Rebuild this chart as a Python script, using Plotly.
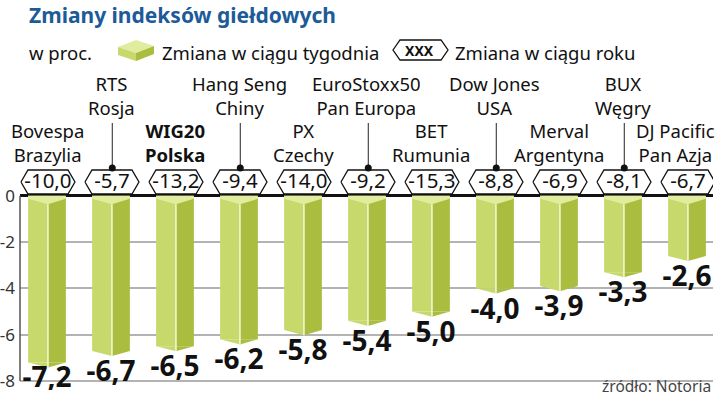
import plotly.graph_objects as go

# ---------------- data ----------------
index_names = ["Bovespa", "RTS", "WIG20", "Hang Seng", "PX", "EuroStoxx50",
               "BET", "Dow Jones", "Merval", "BUX", "DJ Pacific"]
countries = ["Brazylia", "Rosja", "Polska", "Chiny", "Czechy", "Pan Europa",
             "Rumunia", "USA", "Argentyna", "Węgry", "Pan Azja"]
weekly_change = [-7.2, -6.7, -6.5, -6.2, -5.8, -5.4, -5.0, -4.0, -3.9, -3.3, -2.6]
yearly_change = [-10.0, -5.7, -13.2, -9.4, -14.0, -9.2, -15.3, -8.8, -6.9, -8.1, -6.7]
y_ticks = [0, -2, -4, -6, -8]
y_tick_labels = ["0", "-2", "-4", "-6", "-8"]

# ---------------- geometry ----------------
W, H = 720, 398
ML, MR, MT, MB = 20, 7, 70, 8
PX_PER_X = 64.0
PX_PER_Y = 23.15
ZERO_PX = 195.8
FIRST_PX = 47.0
x_range = [(ML - FIRST_PX) / PX_PER_X, (W - MR - FIRST_PX) / PX_PER_X]
y_range = [-(H - MB - ZERO_PX) / PX_PER_Y, (ZERO_PX - MT) / PX_PER_Y]


def dy(py):  # pixel row -> data y
    return (ZERO_PX - py) / PX_PER_Y


def ppx(px):  # pixel col -> paper x
    return (px - ML) / (W - ML - MR)


def ppy(py):  # pixel row -> paper y
    return (H - MB - py) / (H - MT - MB)


def fmt(v):
    return f"{v:.1f}".replace(".", ",")


LIGHT = "#c7d96b"
DARK = "#aabd3e"
TOP = "#e2ec9f"
FONT = "Noto Sans"

xs = list(range(len(weekly_change)))
ridge_off = 0.015
wl, wr = 0.31, 0.28

fig = go.Figure()

# bar faces
fig.add_trace(go.Bar(x=xs, y=weekly_change, base=0, width=wl, offset=ridge_off - wl,
                     marker=dict(color=LIGHT, line=dict(width=0)), hoverinfo="skip"))
fig.add_trace(go.Bar(x=xs, y=weekly_change, base=0, width=wr, offset=ridge_off,
                     marker=dict(color=DARK, line=dict(width=0)), hoverinfo="skip"))

corner_d, ridge_d, bottom_d = -0.13, -0.37, -0.22
tx, ty, blx, bly, brx, bry, rx, ry = [], [], [], [], [], [], [], []
for i, v in zip(xs, weekly_change):
    xl, xm, xr = i + ridge_off - wl, i + ridge_off, i + ridge_off + wr
    tx += [xl, xr, xr, xm, xl, xl, None]
    ty += [0, 0, corner_d, ridge_d, corner_d, 0, None]
    blx += [xl, xm, xm, xl, None]
    bly += [v, v, v + bottom_d, v, None]
    brx += [xm, xr, xm, xm, None]
    bry += [v, v, v + bottom_d, v, None]
    rx += [xm, xm, None]
    ry += [ridge_d, v + bottom_d, None]

fig.add_trace(go.Scatter(x=blx, y=bly, mode="lines", fill="toself", fillcolor=LIGHT,
                         line=dict(width=0, color=LIGHT), hoverinfo="skip"))
fig.add_trace(go.Scatter(x=brx, y=bry, mode="lines", fill="toself", fillcolor=DARK,
                         line=dict(width=0, color=DARK), hoverinfo="skip"))
fig.add_trace(go.Scatter(x=tx, y=ty, mode="lines", fill="toself", fillcolor=TOP,
                         line=dict(width=0, color=TOP), hoverinfo="skip"))
fig.add_trace(go.Scatter(x=rx, y=ry, mode="lines", line=dict(width=1.5, color="#f4f8dc"),
                         hoverinfo="skip"))

# hexagon labels (yearly change)
hx, hy = [], []
ho, hi = 27 / PX_PER_X, 20 / PX_PER_X
yc, yt, yb = dy(182), dy(170), dy(194)
for i in xs:
    c = i + 0.015
    hx += [c - ho, c - hi, c + hi, c + ho, c + hi, c - hi, c - ho, None]
    hy += [yc, yt, yt, yc, yb, yb, yc, None]
fig.add_trace(go.Scatter(x=hx, y=hy, mode="lines", fill="toself", fillcolor="white",
                         line=dict(width=1.3, color="#111"), hoverinfo="skip"))
fig.add_trace(go.Scatter(x=[i + 0.015 for i in xs], y=[dy(182.5)] * len(xs), mode="text",
                         text=[fmt(v) for v in yearly_change],
                         textfont=dict(family=FONT, size=20.5, color="#111"),
                         hoverinfo="skip"))

# weekly value labels below bars
fig.add_trace(go.Scatter(x=xs, y=[max(v - 1.0, -7.95) for v in weekly_change], mode="text",
                         text=[fmt(v) for v in weekly_change],
                         textfont=dict(family=FONT, size=28, color="#111", weight="bold"),
                         hoverinfo="skip"))

# leader lines for upper labels
lx, ly, dx_, dy_ = [], [], [], []
for i in xs:
    if i % 2 == 1:
        lx += [i + 0.02, i + 0.02, None]
        ly += [dy(123), dy(168), None]
        dx_.append(i + 0.02)
        dy_.append(dy(168))
fig.add_trace(go.Scatter(x=lx, y=ly, mode="lines", line=dict(width=1, color="#222"),
                         hoverinfo="skip"))
fig.add_trace(go.Scatter(x=dx_, y=dy_, mode="markers",
                         marker=dict(size=7, color="#111"), hoverinfo="skip"))

annotations = []
for i, (n, c) in enumerate(zip(index_names, countries)):
    upper = i % 2 == 1
    yy = 95.5 if upper else 142.5
    x = ppx(FIRST_PX + PX_PER_X * i)
    xanchor = "center"
    if i == len(index_names) - 1:
        x, xanchor = ppx(717), "right"
    txt = f"<b>{n}<br>{c}</b>" if n == "WIG20" else f"{n}<br>{c}"
    annotations.append(dict(
        x=x, y=ppy(yy), xref="paper", yref="paper", text=txt, align="center",
        showarrow=False, xanchor=xanchor, yanchor="middle",
        font=dict(family=FONT, size=18.5, color="#111")))

# title, legend, source
annotations += [
    dict(x=ppx(27), y=ppy(15), xref="paper", yref="paper", text="<b>Zmiany indeksów giełdowych</b>",
         showarrow=False, xanchor="left", yanchor="middle",
         font=dict(family=FONT, size=21, color="#1d5b98")),
    dict(x=ppx(27), y=ppy(52), xref="paper", yref="paper", text="w proc.",
         showarrow=False, xanchor="left", yanchor="middle",
         font=dict(family=FONT, size=18.5, color="#111")),
    dict(x=ppx(160), y=ppy(52), xref="paper", yref="paper", text="Zmiana w ciągu tygodnia",
         showarrow=False, xanchor="left", yanchor="middle",
         font=dict(family=FONT, size=18.5, color="#111")),
    dict(x=ppx(420), y=ppy(50), xref="paper", yref="paper", text="<b>XXX</b>",
         showarrow=False, xanchor="center", yanchor="middle",
         font=dict(family=FONT, size=14, color="#111")),
    dict(x=ppx(453), y=ppy(52), xref="paper", yref="paper", text="Zmiana w ciągu roku",
         showarrow=False, xanchor="left", yanchor="middle",
         font=dict(family=FONT, size=18.5, color="#111")),
    dict(x=ppx(713), y=ppy(386), xref="paper", yref="paper", text="źródło: Notoria",
         showarrow=False, xanchor="right", yanchor="middle",
         font=dict(family=FONT, size=15.5, color="#444")),
]


def path(pts):
    return "M " + " L ".join(f"{ppx(a)},{ppy(b)}" for a, b in pts) + " Z"


shapes = [
    # y axis line from 0 to -8
    dict(type="line", xref="paper", yref="y", x0=0, x1=0, y0=0, y1=-8,
         line=dict(color="#555", width=1.5), layer="above"),
    # legend box icon
    dict(type="path", xref="paper", yref="paper", path=path([(118, 47), (136, 40), (154, 46), (136, 53)]),
         fillcolor=TOP, line=dict(width=0)),
    dict(type="path", xref="paper", yref="paper", path=path([(118, 47), (136, 53), (136, 61), (118, 55)]),
         fillcolor=LIGHT, line=dict(width=0)),
    dict(type="path", xref="paper", yref="paper", path=path([(136, 53), (154, 46), (154, 54), (136, 61)]),
         fillcolor=DARK, line=dict(width=0)),
    # legend hexagon
    dict(type="path", xref="paper", yref="paper",
         path=path([(393, 50), (400, 40), (441, 40), (448, 50), (441, 60), (400, 60)]),
         fillcolor="white", line=dict(color="#111", width=1.3)),
]

fig.update_layout(
    width=W, height=H, margin=dict(l=ML, r=MR, t=MT, b=MB),
    paper_bgcolor="white", plot_bgcolor="white", showlegend=False,
    barmode="overlay", annotations=annotations, shapes=shapes,
    xaxis=dict(range=x_range, showgrid=False, zeroline=False, showticklabels=False,
               showline=False, fixedrange=True, automargin=False),
    yaxis=dict(range=y_range, tickvals=y_ticks, ticktext=y_tick_labels,
               showgrid=True, gridcolor="#b3b3b3", gridwidth=1.5,
               zeroline=True, zerolinecolor="#111", zerolinewidth=2.5,
               showline=False, ticks="", ticklabelstandoff=4, automargin=False,
               tickfont=dict(family=FONT, size=17, color="#333"), fixedrange=True),
)

fig.write_html("out.html", config={"displayModeBar": False},
               post_script="document.body.style.margin='0px';")
